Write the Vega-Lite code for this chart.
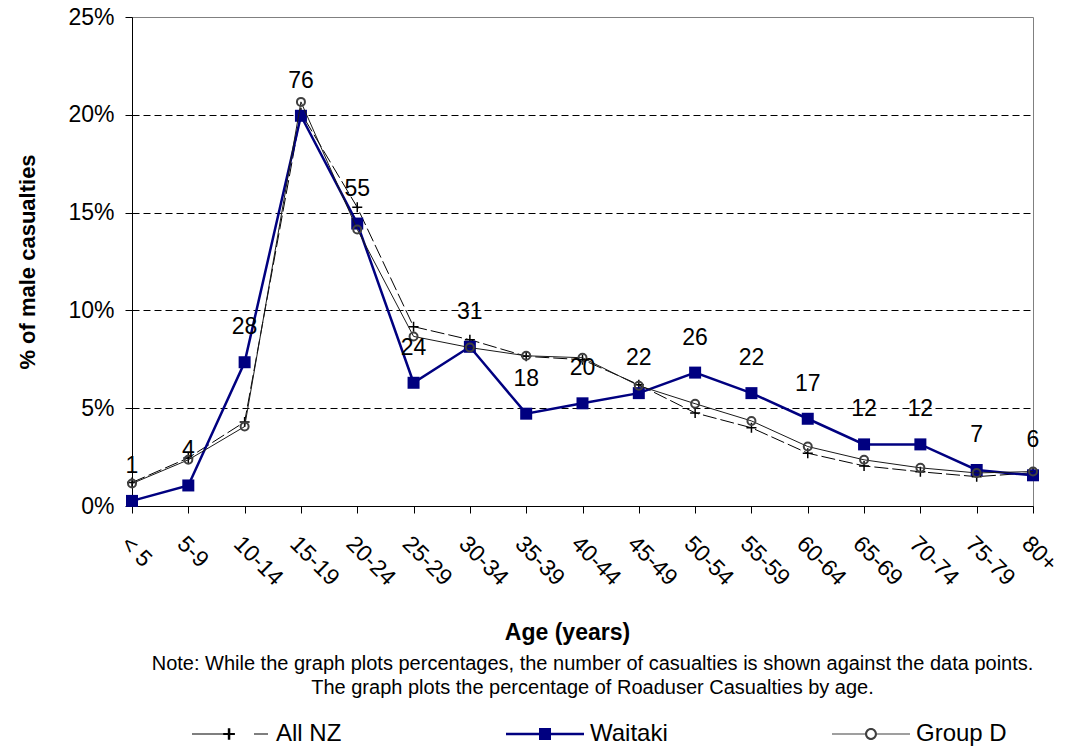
{
  "$schema": "https://vega.github.io/schema/vega-lite/v6.json",
  "width": 1065,
  "height": 749,
  "autosize": {"type": "fit", "contains": "padding"},
  "padding": {"left": 16, "top": 6, "right": 4, "bottom": 51},
  "background": "white",
  "config": {
    "font": "Liberation Sans",
    "view": {"stroke": "#808080", "strokeWidth": 1}
  },
  "title": {
    "text": [
      "Note: While the graph plots percentages, the number of casualties is shown against the  data points.",
      "The graph plots the percentage of Roaduser Casualties by age."
    ],
    "orient": "bottom",
    "frame": "group",
    "anchor": "middle",
    "baseline": "top",
    "offset": 10,
    "dx": 10,
    "fontSize": 20,
    "fontWeight": "normal",
    "lineHeight": 24,
    "color": "black"
  },
  "data": {
    "values": [
      {"age": "< 5", "All NZ": 1.2, "Waitaki": 0.26, "Group D": 1.15, "n": 1},
      {"age": "5-9", "All NZ": 2.46, "Waitaki": 1.05, "Group D": 2.36, "n": 4},
      {"age": "10-14", "All NZ": 4.3, "Waitaki": 7.35, "Group D": 4.06, "n": 28},
      {"age": "15-19", "All NZ": 20.1, "Waitaki": 19.95, "Group D": 20.66, "n": 76},
      {"age": "20-24", "All NZ": 15.27, "Waitaki": 14.44, "Group D": 14.14, "n": 55},
      {"age": "25-29", "All NZ": 9.17, "Waitaki": 6.3, "Group D": 8.67, "n": 24},
      {"age": "30-34", "All NZ": 8.5, "Waitaki": 8.14, "Group D": 8.1, "n": 31},
      {"age": "35-39", "All NZ": 7.65, "Waitaki": 4.72, "Group D": 7.68, "n": 18},
      {"age": "40-44", "All NZ": 7.48, "Waitaki": 5.25, "Group D": 7.58, "n": 20},
      {"age": "45-49", "All NZ": 6.2, "Waitaki": 5.77, "Group D": 6.15, "n": 22},
      {"age": "50-54", "All NZ": 4.76, "Waitaki": 6.82, "Group D": 5.23, "n": 26},
      {"age": "55-59", "All NZ": 4.0, "Waitaki": 5.77, "Group D": 4.35, "n": 22},
      {"age": "60-64", "All NZ": 2.7, "Waitaki": 4.46, "Group D": 3.04, "n": 17},
      {"age": "65-69", "All NZ": 2.05, "Waitaki": 3.15, "Group D": 2.36, "n": 12},
      {"age": "70-74", "All NZ": 1.75, "Waitaki": 3.15, "Group D": 1.95, "n": 12},
      {"age": "75-79", "All NZ": 1.5, "Waitaki": 1.84, "Group D": 1.69, "n": 7},
      {"age": "80+", "All NZ": 1.7, "Waitaki": 1.57, "Group D": 1.76, "n": 6}
    ]
  },
  "transform": [
    {"fold": ["All NZ", "Waitaki", "Group D"], "as": ["series", "pct"]}
  ],
  "encoding": {
    "x": {
      "field": "age",
      "type": "ordinal",
      "sort": ["< 5", "5-9", "10-14", "15-19", "20-24", "25-29", "30-34", "35-39", "40-44", "45-49", "50-54", "55-59", "60-64", "65-69", "70-74", "75-79", "80+"],
      "scale": {"type": "point", "padding": 0},
      "axis": {
        "title": "Age (years)",
        "titleFontSize": 23,
        "titleFontWeight": "bold",
        "titleColor": "black",
        "titleX": 435,
        "titleY": 126,
        "titleBaseline": "middle",
        "labelAngle": 45,
        "labelAlign": "left",
        "labelBaseline": "top",
        "labelPadding": 19,
        "labelFontSize": 23,
        "labelColor": "black",
        "labelOverlap": false,
        "labelBound": false,
        "labelFlush": false,
        "tickSize": 7,
        "tickColor": "black",
        "domainColor": "black",
        "grid": false
      }
    },
    "y": {
      "field": "pct",
      "type": "quantitative",
      "scale": {"domain": [0, 25], "nice": false, "zero": true},
      "axis": {
        "title": "% of male casualties",
        "titleFontSize": 22,
        "titleFontWeight": "bold",
        "titleColor": "black",
        "titleX": -98,
        "titleBaseline": "alphabetic",
        "values": [0, 5, 10, 15, 20, 25],
        "labelExpr": "datum.value + '%'",
        "labelFontSize": 23,
        "labelColor": "black",
        "labelPadding": 11,
        "tickSize": 7,
        "tickColor": "black",
        "domainColor": "black",
        "grid": true,
        "gridColor": "black",
        "gridDash": [7, 4],
        "gridOpacity": {"condition": {"test": "datum.value === 0 || datum.value === 25", "value": 0}, "value": 1}
      }
    }
  },
  "layer": [
    {
      "transform": [{"filter": "datum.series === 'All NZ'"}],
      "mark": {"type": "line", "color": "black", "strokeWidth": 1, "strokeDash": [14, 4]}
    },
    {
      "transform": [{"filter": "datum.series === 'All NZ'"}],
      "mark": {"type": "point", "shape": "M-1,0H1M0,-1V1", "size": 100, "filled": false, "stroke": "black", "strokeWidth": 1.5, "opacity": 1}
    },
    {
      "transform": [{"filter": "datum.series === 'Waitaki'"}],
      "mark": {"type": "line", "color": "#000080", "strokeWidth": 2.5}
    },
    {
      "transform": [{"filter": "datum.series === 'Waitaki'"}],
      "mark": {"type": "point", "shape": "square", "size": 144, "filled": true, "color": "#000080", "opacity": 1}
    },
    {
      "transform": [{"filter": "datum.series === 'Group D'"}],
      "mark": {"type": "line", "color": "#1a1a1a", "strokeWidth": 1}
    },
    {
      "transform": [{"filter": "datum.series === 'Group D'"}],
      "mark": {"type": "point", "shape": "circle", "size": 64, "filled": false, "stroke": "#404040", "strokeWidth": 2, "opacity": 1}
    },
    {
      "transform": [{"filter": "datum.series === 'Waitaki'"}],
      "mark": {"type": "text", "fontSize": 23, "dy": -35, "color": "black", "baseline": "middle", "align": "center"},
      "encoding": {"text": {"field": "n", "type": "quantitative"}}
    },
    {
      "transform": [{"filter": "false"}],
      "mark": {"type": "point", "filled": true, "opacity": 1},
      "encoding": {
        "color": {
          "field": "series",
          "type": "nominal",
          "scale": {"domain": ["All NZ", "Waitaki", "Group D"], "range": ["black", "#000080", "#404040"]},
          "legend": {
            "orient": "none", "legendX": 60, "legendY": 678, "direction": "horizontal", "columns": 3,
            "columnPadding": 164, "symbolSize": 6084, "symbolStrokeWidth": 0, "symbolOpacity": 1,
            "labelFontSize": 24, "labelColor": "black", "labelOffset": 6, "labelLimit": 0, "title": null, "padding": 0
          }
        },
        "shape": {
          "field": "series",
          "type": "nominal",
          "scale": {
            "domain": ["All NZ", "Waitaki", "Group D"],
            "range": [
              "M-1,-0.013H-0.05V0.013H-1Z M-0.2,-0.026H0.1V0.026H-0.2Z M-0.082,-0.15H-0.018V0.15H-0.082Z M0.59,-0.013H0.95V0.013H0.59Z",
              "M-1,-0.032H1V0.032H-1Z M-0.154,-0.154H0.154V0.154H-0.154Z",
              "M-1,-0.013H-0.154V0.013H-1Z M0.154,-0.013H1V0.013H0.154Z M-0.154,0A0.154,0.154 0 1,0 0.154,0A0.154,0.154 0 1,0 -0.154,0Z M-0.1,0A0.1,0.1 0 1,1 0.1,0A0.1,0.1 0 1,1 -0.1,0Z"
            ]
          },
          "legend": {
            "orient": "none", "legendX": 60, "legendY": 678, "direction": "horizontal", "columns": 3,
            "columnPadding": 164, "symbolSize": 6084, "symbolStrokeWidth": 0, "symbolOpacity": 1,
            "labelFontSize": 24, "labelColor": "black", "labelOffset": 6, "labelLimit": 0, "title": null, "padding": 0
          }
        }
      }
    }
  ]
}
